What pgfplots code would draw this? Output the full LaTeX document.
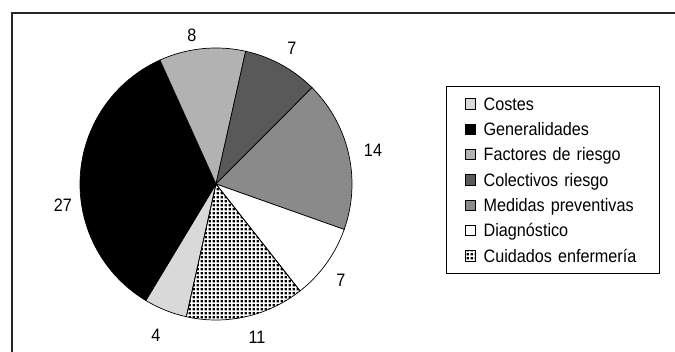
\documentclass[border=0pt]{standalone}
\usepackage{fontspec}
\setmainfont{Liberation Sans}[FakeStretch=0.9]
\usepackage{pgfplots}
\pgfplotsset{compat=1.18}
\usetikzlibrary{patterns}

% small square dots for the hatched slice
\pgfdeclarepatternformonly{smalldots}{\pgfqpoint{0pt}{0pt}}{\pgfqpoint{4.2pt}{4.2pt}}{\pgfqpoint{4.2pt}{4.2pt}}{%
  \pgfpathrectangle{\pgfqpoint{0.8pt}{0.8pt}}{\pgfqpoint{2.5pt}{2.5pt}}\pgfusepath{fill}}

\definecolor{cCostes}{gray}{0.85}
\definecolor{cGeneral}{gray}{0}
\definecolor{cFactores}{gray}{0.70}
\definecolor{cColectivos}{gray}{0.35}
\definecolor{cMedidas}{gray}{0.54}

% number of items per topic
\def\vCostes{4}
\def\vGeneral{27}
\def\vFactores{8}
\def\vColectivos{7}
\def\vMedidas{14}
\def\vDiagnostico{7}
\def\vCuidados{11}

\newcommand\lblfont{\fontsize{18}{18}\selectfont}

\begin{document}
\begin{tikzpicture}
\pgfmathsetmacro\tot{\vCostes+\vGeneral+\vFactores+\vColectivos+\vMedidas+\vDiagnostico+\vCuidados}
\pgfmathsetmacro\aA{102.6}
\pgfmathsetmacro\aB{\aA+360*\vCostes/\tot}
\pgfmathsetmacro\aC{\aB+360*\vGeneral/\tot}
\pgfmathsetmacro\aD{\aC+360*\vFactores/\tot}
\pgfmathsetmacro\aE{\aD+360*\vColectivos/\tot}
\pgfmathsetmacro\aF{\aE+360*\vMedidas/\tot}
\pgfmathsetmacro\aG{\aF+360*\vDiagnostico/\tot}
\pgfmathsetmacro\aH{\aG+360*\vCuidados/\tot}
\begin{axis}[
  x=1pt, y=1pt, xmin=0, xmax=675, ymin=0, ymax=352, y dir=reverse,
  hide axis, clip=false, scale only axis,
  samples=60,
  legend style={at={(axis cs:446,86)}, anchor=north west, draw=black, line width=1pt,
    inner xsep=18.5pt, inner ysep=11pt, column sep=7.5pt, row sep=12.4pt,
    font=\lblfont,
    nodes={inner sep=0pt, text height=12.9pt, text depth=0pt, text width=157pt, align=left}},
  legend cell align=left,
  legend image code/.code={\draw[#1, draw=black, line width=0.7pt] (0pt,-5.2pt) rectangle (10.4pt,5.2pt);},
]
\addplot[draw=black, line width=0.7pt, fill=cCostes, domain=\aA:\aB, variable=\t]
  ({216+136*cos(\t)},{184+136*sin(\t)}) -- (axis cs:216,184) -- cycle;
\addplot[draw=black, line width=0.7pt, fill=cGeneral, domain=\aB:\aC, variable=\t]
  ({216+136*cos(\t)},{184+136*sin(\t)}) -- (axis cs:216,184) -- cycle;
\addplot[draw=black, line width=0.7pt, fill=cFactores, domain=\aC:\aD, variable=\t]
  ({216+136*cos(\t)},{184+136*sin(\t)}) -- (axis cs:216,184) -- cycle;
\addplot[draw=black, line width=0.7pt, fill=cColectivos, domain=\aD:\aE, variable=\t]
  ({216+136*cos(\t)},{184+136*sin(\t)}) -- (axis cs:216,184) -- cycle;
\addplot[draw=black, line width=0.7pt, fill=cMedidas, domain=\aE:\aF, variable=\t]
  ({216+136*cos(\t)},{184+136*sin(\t)}) -- (axis cs:216,184) -- cycle;
\addplot[draw=black, line width=0.7pt, fill=white, domain=\aF:\aG, variable=\t]
  ({216+136*cos(\t)},{184+136*sin(\t)}) -- (axis cs:216,184) -- cycle;
\addplot[draw=black, line width=0.7pt, pattern=smalldots, domain=\aG:\aH, variable=\t]
  ({216+136*cos(\t)},{184+136*sin(\t)}) -- (axis cs:216,184) -- cycle;
\legend{Costes, Generalidades, Factores de riesgo, Colectivos riesgo, Medidas preventivas, Diagnóstico, Cuidados enfermería}

% value labels
\node[font=\lblfont] at (axis cs:156,335) {\vCostes};
\node[font=\lblfont] at (axis cs:63,205) {\vGeneral};
\node[font=\lblfont] at (axis cs:192,35) {\vFactores};
\node[font=\lblfont] at (axis cs:292,48) {\vColectivos};
\node[font=\lblfont] at (axis cs:373,150) {\vMedidas};
\node[font=\lblfont] at (axis cs:341,280) {\vDiagnostico};
\node[font=\lblfont] at (axis cs:257,337) {\vCuidados};

% outer frame
\draw[line width=1.3pt, black!85] (axis cs:12,352) -- (axis cs:12,13) -- (axis cs:675,13);
\coordinate (bl) at (axis cs:0,352);
\coordinate (tr) at (axis cs:675,0);
\end{axis}
\pgfresetboundingbox
\path (bl) rectangle (tr);
\end{tikzpicture}
\end{document}
